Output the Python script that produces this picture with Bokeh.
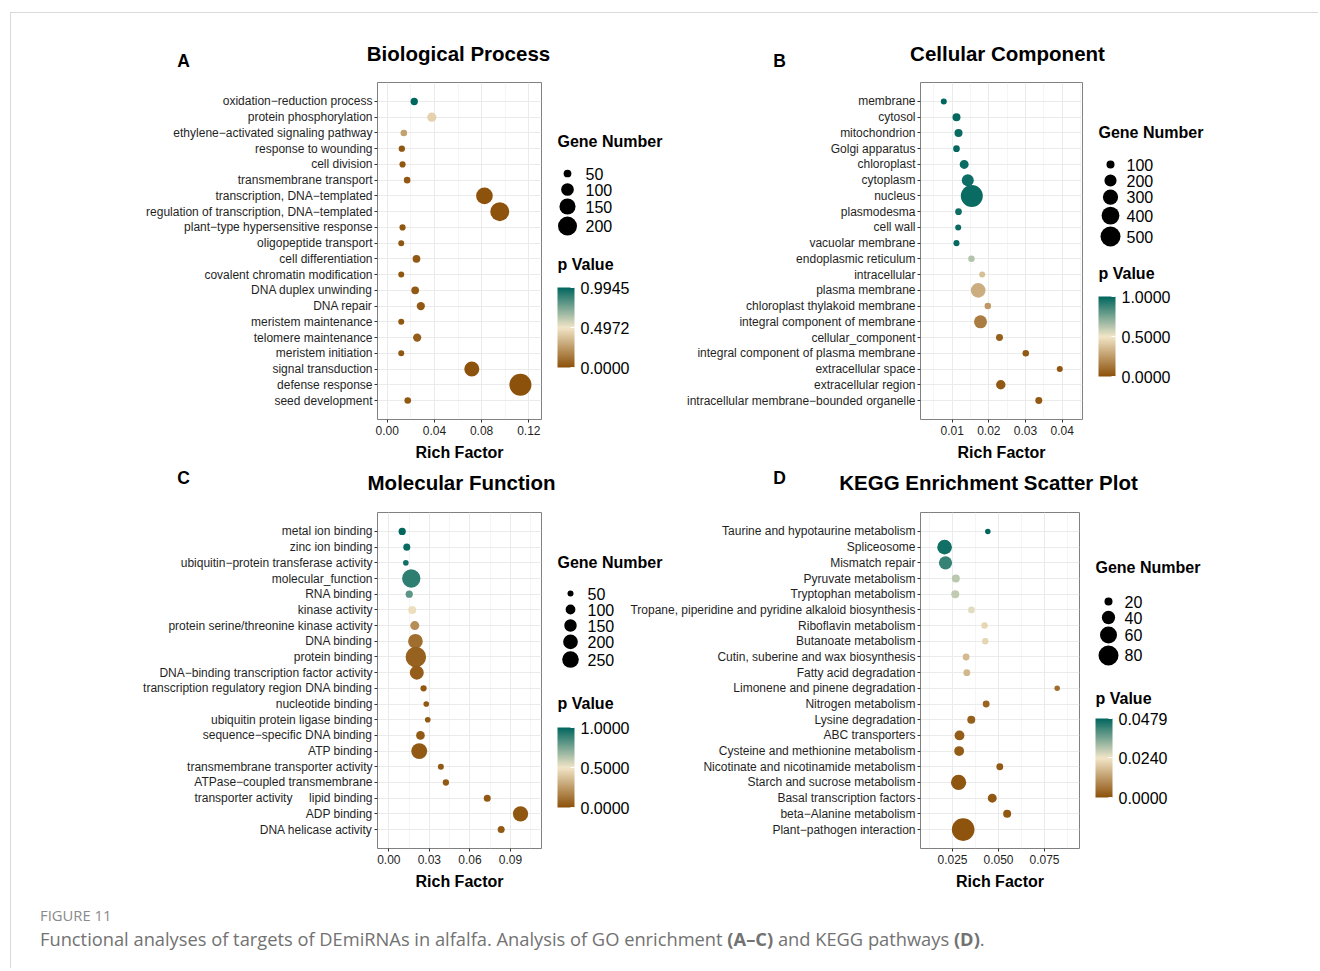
import math
from bokeh.plotting import figure
from bokeh.models import (Range1d, FixedTicker, Label, ColorBar, LinearColorMapper,
                          PrintfTickFormatter, ColumnDataSource, Spacer, Div)
from bokeh.layouts import row, column
from bokeh.transform import transform
from bokeh.core.properties import value
from bokeh.embed import file_html
from bokeh.resources import INLINE

FONT = "Liberation Sans"

# ---------------- data ----------------
bp_terms = ["oxidation−reduction process", "protein phosphorylation",
            "ethylene−activated signaling pathway", "response to wounding", "cell division",
            "transmembrane transport", "transcription, DNA−templated",
            "regulation of transcription, DNA−templated", "plant−type hypersensitive response",
            "oligopeptide transport", "cell differentiation", "covalent chromatin modification",
            "DNA duplex unwinding", "DNA repair", "meristem maintenance", "telomere maintenance",
            "meristem initiation", "signal transduction", "defense response", "seed development"]
bp_rich = [0.0229, 0.0378, 0.0141, 0.0124, 0.0130, 0.0169, 0.0824, 0.0954, 0.0130, 0.0119,
           0.0248, 0.0119, 0.0237, 0.0285, 0.0119, 0.0254, 0.0119, 0.0717, 0.1129, 0.0174]
bp_genes = [47, 63, 42, 40, 39, 42, 159, 200, 39, 38, 50, 38, 50, 54, 38, 54, 38, 133, 262, 42]
bp_p = [0.9945, 0.43, 0.27, 0.02, 0.02, 0.03, 0.005, 0.004, 0.02, 0.02, 0.03, 0.02, 0.03,
        0.03, 0.02, 0.04, 0.02, 0.006, 0.003, 0.03]
bp_size_breaks = [50, 100, 150, 200]
bp_p_ticks = [0.0, 0.4972, 0.9945]

cc_terms = ["membrane", "cytosol", "mitochondrion", "Golgi apparatus", "chloroplast", "cytoplasm",
            "nucleus", "plasmodesma", "cell wall", "vacuolar membrane", "endoplasmic reticulum",
            "intracellular", "plasma membrane", "chloroplast thylakoid membrane",
            "integral component of membrane", "cellular_component",
            "integral component of plasma membrane", "extracellular space", "extracellular region",
            "intracellular membrane−bounded organelle"]
cc_rich = [0.00771, 0.01117, 0.01172, 0.01117, 0.01327, 0.01425, 0.01535, 0.01172, 0.01164,
           0.01117, 0.01526, 0.01818, 0.01709, 0.01971, 0.01772, 0.0229, 0.03007, 0.03934,
           0.02325, 0.03362]
cc_genes = [67, 100, 100, 77, 120, 195, 600, 77, 67, 67, 74, 67, 281, 74, 225, 82, 74, 67, 131, 82]
cc_p = [1.0, 0.99, 0.98, 0.99, 0.98, 0.97, 0.98, 0.97, 0.98, 0.99, 0.63, 0.37, 0.31, 0.245,
        0.145, 0.05, 0.03, 0.02, 0.03, 0.03]
cc_size_breaks = [100, 200, 300, 400, 500]
cc_p_ticks = [0.0, 0.5, 1.0]

mf_terms = ["metal ion binding", "zinc ion binding", "ubiquitin−protein transferase activity",
            "molecular_function", "RNA binding", "kinase activity",
            "protein serine/threonine kinase activity", "DNA binding", "protein binding",
            "DNA−binding transcription factor activity",
            "transcription regulatory region DNA binding", "nucleotide binding",
            "ubiquitin protein ligase binding", "sequence−specific DNA binding", "ATP binding",
            "transmembrane transporter activity", "ATPase−coupled transmembrane\ntransporter activity",
            "lipid binding", "ADP binding", "DNA helicase activity"]
mf_rich = [0.0099, 0.0133, 0.0126, 0.0166, 0.0151, 0.0173, 0.0192, 0.0197, 0.0200, 0.0207,
           0.0257, 0.0277, 0.0288, 0.0234, 0.0225, 0.0385, 0.0422, 0.0728, 0.0974, 0.0831]
mf_genes = [64, 61, 47, 300, 64, 73, 88, 200, 370, 183, 53, 47, 47, 83, 233, 50, 53, 61, 215, 61]
mf_p = [1.0, 0.98, 0.96, 0.905, 0.81, 0.475, 0.2, 0.1, 0.055, 0.04, 0.03, 0.03, 0.03, 0.03,
        0.03, 0.03, 0.03, 0.03, 0.02, 0.03]
mf_size_breaks = [50, 100, 150, 200, 250]
mf_p_ticks = [0.0, 0.5, 1.0]

kegg_terms = ["Taurine and hypotaurine metabolism", "Spliceosome", "Mismatch repair",
              "Pyruvate metabolism", "Tryptophan metabolism",
              "Tropane, piperidine and pyridine alkaloid biosynthesis", "Riboflavin metabolism",
              "Butanoate metabolism", "Cutin, suberine and wax biosynthesis",
              "Fatty acid degradation", "Limonene and pinene degradation", "Nitrogen metabolism",
              "Lysine degradation", "ABC transporters", "Cysteine and methionine metabolism",
              "Nicotinate and nicotinamide metabolism", "Starch and sucrose metabolism",
              "Basal transcription factors", "beta−Alanine metabolism", "Plant−pathogen interaction"]
kegg_rich = [0.0442, 0.0207, 0.0212, 0.0268, 0.0265, 0.0353, 0.0424, 0.0428, 0.0324, 0.0328,
             0.0819, 0.0433, 0.0352, 0.0288, 0.0286, 0.0507, 0.0283, 0.0466, 0.0547, 0.0308]
kegg_genes = [14, 47, 40, 20, 20, 17, 16, 16, 17, 17, 14, 17, 20, 26, 26, 17, 50, 23, 20, 100]
kegg_p = [0.0479, 0.0462, 0.0425, 0.0295, 0.0290, 0.0255, 0.0215, 0.0212, 0.0170, 0.0165,
          0.0045, 0.0030, 0.0026, 0.0018, 0.0018, 0.0014, 0.0008, 0.0012, 0.0010, 0.0004]
kegg_size_breaks = [20, 40, 60, 80]
kegg_p_ticks = [0.0, 0.0240, 0.0479]

panel_letters = ["A", "B", "C", "D"]
panel_titles = ["Biological Process", "Cellular Component", "Molecular Function",
                "KEGG Enrichment Scatter Plot"]
caption_label = "FIGURE 11"
caption_text = ("Functional analyses of targets of DEmiRNAs in alfalfa. Analysis of GO enrichment "
                "<b>(A–C)</b> and KEGG pathways <b>(D)</b>.")

# ---------------- style helpers ----------------
LOW, MID, HIGH = "#8C510A", "#F2E6C8", "#01665E"


def _rgb(h):
    return [int(h[i:i + 2], 16) for i in (1, 3, 5)]


def _mix(a, b, s):
    ca, cb = _rgb(a), _rgb(b)
    return "#%02x%02x%02x" % tuple(round(ca[k] + (cb[k] - ca[k]) * s) for k in range(3))


PAL = []
for i in range(256):
    t = i / 255
    PAL.append(_mix(LOW, MID, t / 0.5) if t < 0.5 else _mix(MID, HIGH, (t - 0.5) / 0.5))


def diam(n, ab):
    b, a = ab
    return math.sqrt(max(b * n + a, 4.0))


def tick_labels(terms):
    labels = [t.split("\n")[0] for t in terms]
    for k, t in enumerate(terms):
        if "\n" in t and k + 1 < len(terms):
            labels[k + 1] = t.split("\n")[1] + "\u00a0" * 5 + labels[k + 1]
    return labels


def build_main(terms, rich, genes, pvals, pmax, ab, frame, origin, size, xr, xticks, xminor, fmt):
    L, T, R, B = frame
    fx, fy = origin
    fw, fh = size
    n = len(terms)
    ypos = list(range(n, 0, -1))
    pad = 1.207
    y0, y1 = 1 - pad, n + pad
    p = figure(frame_width=R - L, frame_height=B - T,
               min_border_left=L - fx, min_border_right=fx + fw - R,
               min_border_top=T - fy, min_border_bottom=fy + fh - B,
               x_range=Range1d(*xr), y_range=Range1d(y0, y1),
               output_backend="svg", toolbar_location=None, tools="")
    p.border_fill_alpha = 0
    p.background_fill_color = "white"
    p.outline_line_color = "#808080"
    p.outline_line_width = 1

    p.xaxis.ticker = FixedTicker(ticks=xticks, minor_ticks=xminor)
    p.xaxis.formatter = PrintfTickFormatter(format=fmt)
    p.yaxis.ticker = FixedTicker(ticks=ypos)
    p.yaxis.major_label_overrides = dict(zip(ypos, tick_labels(terms)))
    for ax in (p.xaxis, p.yaxis):
        ax.axis_line_color = None
        ax.major_tick_line_color = "#333333"
        ax.major_tick_out = 3
        ax.major_tick_in = 0
        ax.minor_tick_line_color = None
        ax.major_label_text_font = FONT
        ax.major_label_text_font_size = "12px"
        ax.major_label_text_color = "#1f1f1f"
    p.yaxis.major_label_standoff = 2
    p.xaxis.major_label_standoff = 2
    p.xaxis.axis_label = "Rich Factor"
    p.xaxis.axis_label_text_font = FONT
    p.xaxis.axis_label_text_font_size = "16px"
    p.xaxis.axis_label_text_font_style = "bold"
    p.xaxis.axis_label_text_color = "black"
    p.xaxis.axis_label_standoff = 6

    p.xgrid.grid_line_color = "#EBEBEB"
    p.xgrid.minor_grid_line_color = "#EFEFEF"
    p.xgrid.minor_grid_line_width = 0.6
    p.ygrid.grid_line_color = "#EBEBEB"

    mapper = LinearColorMapper(palette=PAL, low=0, high=pmax)
    src = ColumnDataSource(dict(x=rich, y=ypos, d=[diam(g, ab) for g in genes], p=pvals))
    p.scatter("x", "y", size="d", source=src, fill_color=transform("p", mapper),
              line_color=None)
    return p, mapper


def build_legend(origin, size, frame_tb, breaks, ab, title_xy, first_y, dot_x, label_x, mapper,
                 pticks, ptitle_xy, bar):
    x0, y0 = origin
    w, h = size
    T, B = frame_tb
    q = figure(frame_width=w, frame_height=B - T, x_range=Range1d(x0, x0 + w),
               y_range=Range1d(B, T), min_border_left=0, min_border_right=0,
               min_border_top=T - y0, min_border_bottom=y0 + h - B,
               x_axis_location=None, y_axis_location=None,
               output_backend="svg", toolbar_location=None, tools="")
    q.grid.visible = False
    q.outline_line_color = None
    q.background_fill_alpha = 0
    q.border_fill_alpha = 0
    ds = [diam(b, ab) for b in breaks]
    hs = [max(16.0, d + 2) for d in ds]
    ys = [first_y]
    for k in range(1, len(ds)):
        ys.append(ys[-1] + (hs[k - 1] + hs[k]) / 2)
    q.add_layout(Label(x=title_xy[0], y=title_xy[1], text="Gene Number", text_font=FONT,
                       text_font_size="16px", text_font_style="bold", text_color="black",
                       text_align="left", text_baseline="middle"))
    q.scatter(x=[dot_x] * len(ds), y=ys, size=ds, fill_color="black", line_color=None)
    q.text(x=[label_x] * len(ds), y=ys, text=[str(b) for b in breaks], text_font=value(FONT),
           text_font_size="16px", text_baseline="middle", text_align="left", text_color="black")
    q.add_layout(Label(x=ptitle_xy[0], y=ptitle_xy[1], text="p Value", text_font=FONT,
                       text_font_size="16px", text_font_style="bold", text_color="black",
                       text_align="left", text_baseline="middle"))
    bx, btop, bw, bh = bar
    cb = ColorBar(color_mapper=mapper, ticker=FixedTicker(ticks=pticks),
                  formatter=PrintfTickFormatter(format="%.4f"),
                  width=bw, height=bh, location=(bx - x0, B - (btop + bh)),
                  padding=0, margin=0, label_standoff=6,
                  major_label_text_font=FONT, major_label_text_font_size="16px",
                  major_label_text_color="black", major_tick_line_color="white",
                  major_tick_in=4, major_tick_out=0, bar_line_color=None,
                  border_line_color=None, background_fill_alpha=0)
    q.add_layout(cb)
    return q


def build_header(origin, size, items):
    x0, y0 = origin
    w, h = size
    q = figure(frame_width=w, frame_height=h, x_range=Range1d(x0, x0 + w),
               y_range=Range1d(y0 + h, y0), min_border=0, x_axis_location=None,
               y_axis_location=None, output_backend="svg", toolbar_location=None, tools="")
    q.grid.visible = False
    q.outline_line_color = None
    q.background_fill_alpha = 0
    q.border_fill_alpha = 0
    for text, x, y, fs in items:
        q.add_layout(Label(x=x, y=y, text=text, text_font=FONT, text_font_size=fs,
                           text_font_style="bold", text_color="black", text_align="center",
                           text_baseline="middle"))
    return q


# row 1: y 70..468 ; row 2: y 500..898
pA, mA = build_main(bp_terms, bp_rich, bp_genes, bp_p, max(bp_p_ticks), (2.0, -40.0),
                    (377, 82, 541, 419), (11, 70), (539, 398), (-0.00822, 0.13076),
                    [0.0, 0.04, 0.08, 0.12], [0.02, 0.06, 0.10], "%.2f")
pB, mB = build_main(cc_terms, cc_rich, cc_genes, cc_p, max(cc_p_ticks), (0.84, -20.0),
                    (920, 82, 1082, 419), (680, 70), (410, 398), (0.001355, 0.04554),
                    [0.01, 0.02, 0.03, 0.04], [0.005, 0.015, 0.025, 0.035, 0.045], "%.2f")
pC, mC = build_main(mf_terms, mf_rich, mf_genes, mf_p, max(mf_p_ticks), (1.2, -24.0),
                    (377, 512, 541, 848), (11, 500), (539, 398), (-0.00836, 0.11292),
                    [0.0, 0.03, 0.06, 0.09], [0.015, 0.045, 0.075, 0.105], "%.2f")
pD, mD = build_main(kegg_terms, kegg_rich, kegg_genes, kegg_p, max(kegg_p_ticks), (5.6, -48.0),
                    (920, 512, 1079, 848), (620, 500), (470, 398), (0.00761, 0.09402),
                    [0.025, 0.05, 0.075], [0.0125, 0.0375, 0.0625, 0.0875], "%.3f")

lA = build_legend((550, 70), (130, 398), (82, 419), bp_size_breaks, (2.0, -40.0), (557, 141),
                  173, 567, 585, mA, bp_p_ticks, (557, 264), (557, 287, 17, 80))
lB = build_legend((1090, 70), (220, 398), (82, 419), cc_size_breaks, (0.84, -20.0), (1098, 132),
                  164, 1110, 1126, mB, cc_p_ticks, (1098, 273), (1098, 296, 17, 80))
lC = build_legend((550, 500), (130, 398), (512, 848), mf_size_breaks, (1.2, -24.0), (557, 562),
                  593, 570, 587, mC, mf_p_ticks, (557, 703), (557, 727, 17, 80))
lD = build_legend((1090, 500), (220, 398), (512, 848), kegg_size_breaks, (5.6, -48.0),
                  (1095, 567), 601, 1108, 1124, mD, kegg_p_ticks, (1095, 698), (1095, 718, 17, 79))

pD.margin = (0, 0, 0, -60)

h1 = build_header((11, 13), (1299, 57), [
    (panel_letters[0], 183, 60, "17.5px"), (panel_titles[0], 458, 53, "20.5px"),
    (panel_letters[1], 779, 60, "17.5px"), (panel_titles[1], 1007, 53, "20.5px")])
h2 = build_header((11, 468), (1299, 32), [
    (panel_letters[2], 183, 477, "17.5px"), (panel_titles[2], 461, 482, "20.5px"),
    (panel_letters[3], 779, 477, "17.5px"), (panel_titles[3], 988, 482, "20.5px")])

caption = Div(text=(
    "<div style=\"padding:9px 0 0 29px; font-family:'Open Sans',sans-serif; color:#727272;\">"
    "<div style=\"font-size:14.8px; line-height:16px; color:#8a8a8a;\">" + caption_label + "</div>"
    "<div style=\"font-size:18.3px; line-height:24px; margin-top:4px; white-space:nowrap;\">"
    + caption_text + "</div></div>"), width=1299, height=62, margin=0)

content = column(h1, row(pA, lA, pB, lB), h2, row(pC, lC, pD, lD), caption)
top_line = Spacer(width=1308, height=1, styles={"background-color": "#d9d9d9"})
left_line = Spacer(width=1, height=955, styles={"background-color": "#d9d9d9"})
root = column(top_line, row(left_line, content))
root.margin = (12, 0, 0, 10)

open("out.html", "w").write(file_html(root, INLINE))
